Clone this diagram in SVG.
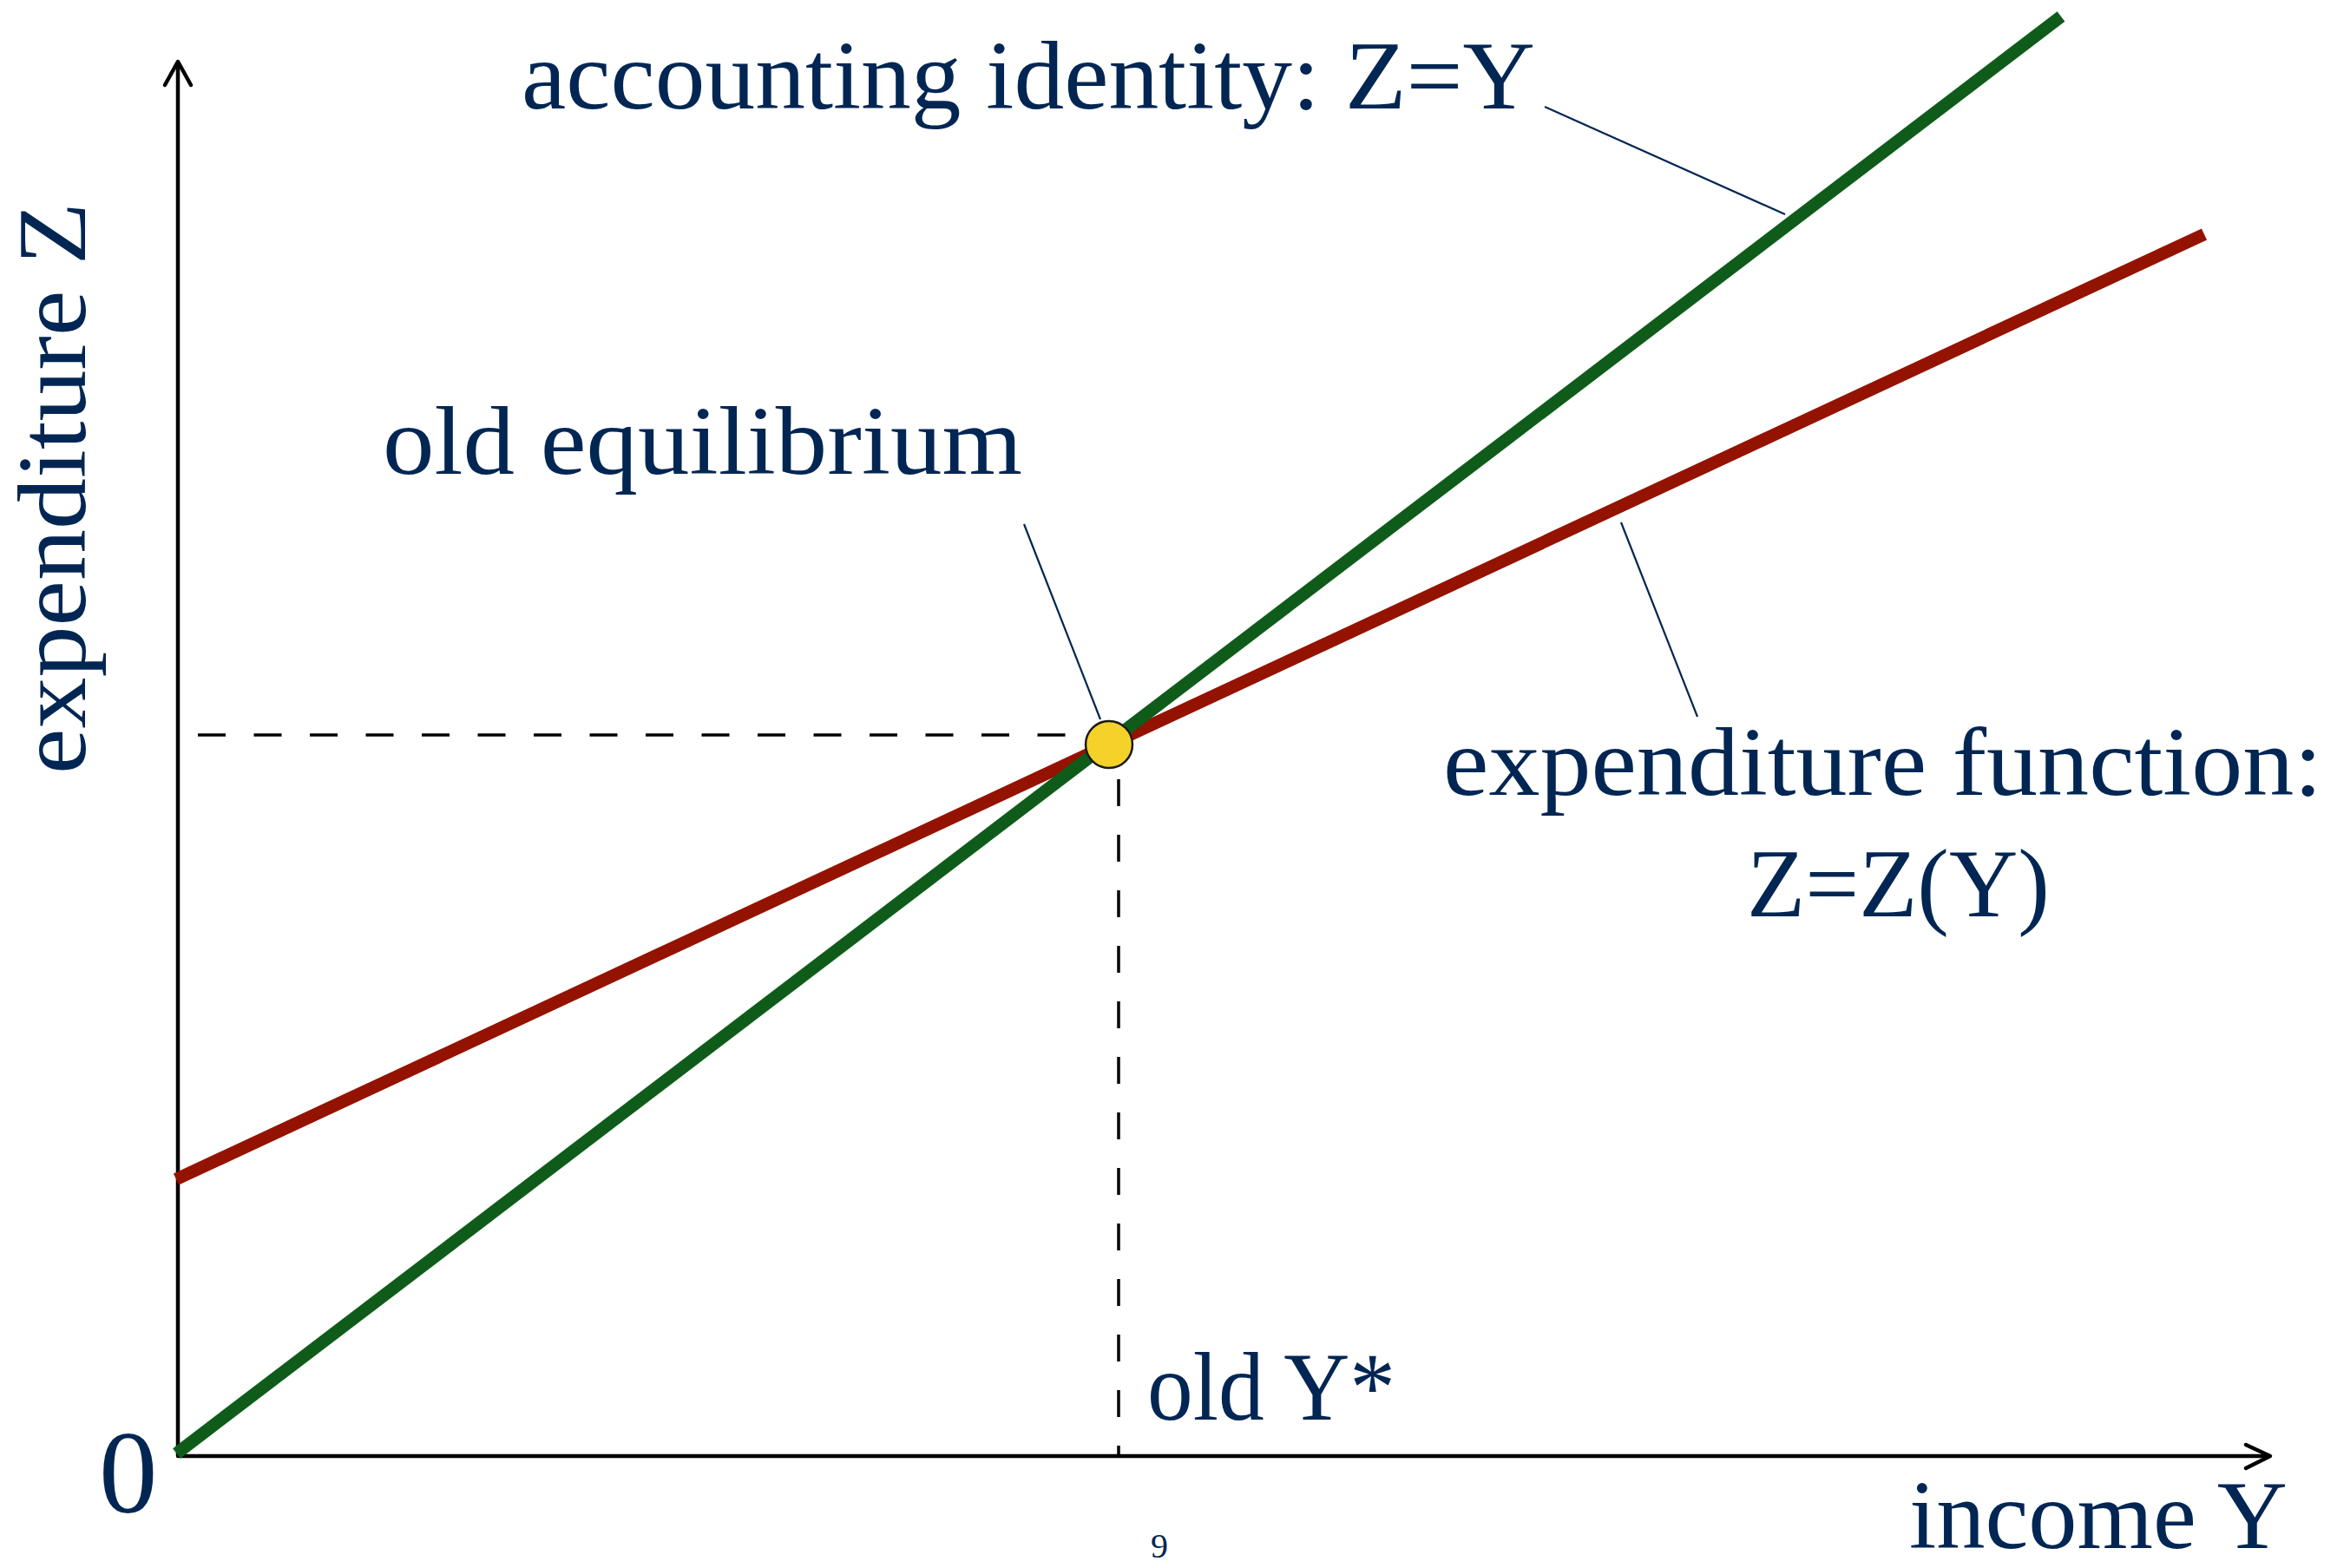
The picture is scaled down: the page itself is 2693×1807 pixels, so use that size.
<svg xmlns="http://www.w3.org/2000/svg" width="2693" height="1807" viewBox="0 0 2693 1807">
<style>
text{font-family:"Liberation Serif","Times New Roman",serif;fill:#022653;}
.lbl{font-size:113px;}
.axis{stroke:#000;stroke-width:4.5;fill:none;stroke-linecap:round;stroke-linejoin:round;}
.dash{stroke:#000;stroke-width:3.5;fill:none;}
.leader{stroke:#022653;stroke-width:2.2;fill:none;}
</style>
<rect width="2693" height="1807" fill="#fff"/>
<g id="connectors">
<line class="dash" x1="228" y1="847" x2="1228" y2="847" stroke-dasharray="32 32.5"/>
<line class="dash" x1="1289" y1="898" x2="1289" y2="1677" stroke-dasharray="31 33"/>
<line class="leader" x1="1180" y1="604" x2="1268" y2="829"/>
<line class="leader" x1="1780" y1="123" x2="2057" y2="247"/>
<line class="leader" x1="1868" y1="602" x2="1956" y2="826"/>
</g>
<g id="axes">
<line class="axis" x1="205" y1="1677" x2="205" y2="73"/>
<polyline class="axis" points="190,98 205,71 220,98"/>
<line class="axis" x1="205" y1="1678" x2="2614" y2="1678"/>
<polyline class="axis" points="2588,1665 2616,1678 2588,1692"/>
</g>
<g id="expenditure-function">
<line x1="203" y1="1359" x2="2540" y2="270" stroke="#941300" stroke-width="14.5"/>
</g>
<g id="accounting-identity">
<line x1="203.5" y1="1675" x2="2375" y2="19" stroke="#0F5C1A" stroke-width="14.5"/>
</g>
<g id="equilibrium">
<circle cx="1278" cy="858" r="27" fill="#F5D22A" stroke="#1a1a1a" stroke-width="2.5"/>
</g>
<g id="labels">
<text class="lbl" x="601" y="125" textLength="1168" lengthAdjust="spacingAndGlyphs">accounting identity: Z=Y</text>
<text class="lbl" x="441" y="546" textLength="737" lengthAdjust="spacingAndGlyphs">old equilibrium</text>
<text class="lbl" x="1663" y="916" textLength="1013" lengthAdjust="spacingAndGlyphs">expenditure function:</text>
<text class="lbl" x="2013" y="1056" textLength="349" lengthAdjust="spacingAndGlyphs">Z=Z(Y)</text>
<text class="lbl" x="1322" y="1636" textLength="286" lengthAdjust="spacingAndGlyphs">old Y*</text>
<text class="lbl" x="2200" y="1784" font-size="106" textLength="436" lengthAdjust="spacingAndGlyphs">income Y</text>
<text class="lbl" transform="translate(98,892) rotate(-90)" x="0" y="0" textLength="659" lengthAdjust="spacingAndGlyphs">expenditure Z</text>
<text x="114" y="1743" font-size="135">0</text>
<text x="1326" y="1795" font-size="40">9</text>
</g>
</svg>
